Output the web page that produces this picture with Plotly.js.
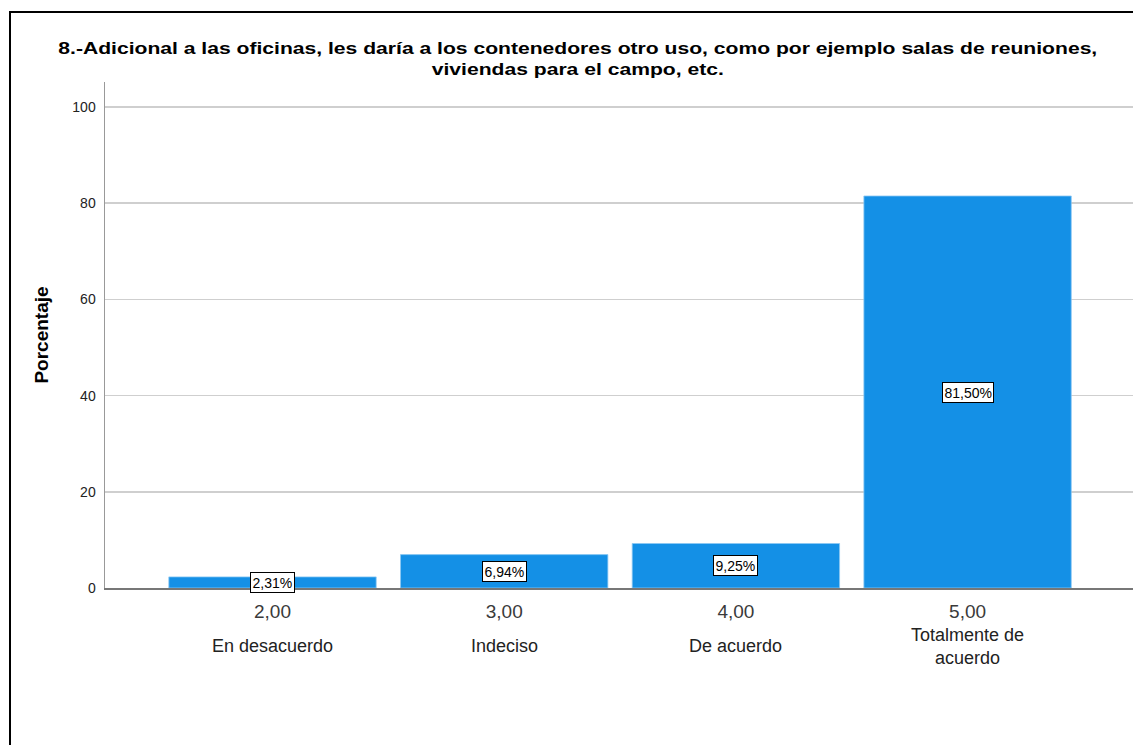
<!DOCTYPE html>
<html>
<head>
<meta charset="utf-8">
<script src="https://cdn.plot.ly/plotly-3.0.1.min.js"></script>
<style>
  html, body { margin: 0; padding: 0; background: #fff; overflow: hidden; }
  #wrap { position: relative; width: 1133px; height: 745px; overflow: hidden; }
  #chart { width: 1133px; height: 745px; }
  #frame { position: absolute; left: 9px; top: 11px; width: 1200px; height: 800px;
           border: 2px solid #000; pointer-events: none; box-sizing: border-box; }
  #chart .gtitle { transform-box: view-box; transform-origin: 578px 55px; transform: scaleX(1.32); }
</style>
</head>
<body>
<div id="wrap">
  <div id="chart"></div>
  <div id="frame"></div>
</div>
<script>
// ---- data ----
const codes = ["2,00", "3,00", "4,00", "5,00"];
const categoryLabels = ["En desacuerdo", "Indeciso", "De acuerdo", "Totalmente de<br>acuerdo"];
const percentages = [2.31, 6.94, 9.25, 81.50];
const yTicks = [0, 20, 40, 60, 80, 100];
const titleText = "8.-Adicional a las oficinas, les daría a los contenedores otro uso, como por ejemplo salas de reuniones,<br>viviendas para el campo, etc.";
const yTitle = "Porcentaje";

const xIdx = codes.map((c, i) => i);
const fmt = v => v.toFixed(2).replace('.', ',') + '%';

const FONT = "Arial, 'Liberation Sans', sans-serif";

const trace = {
  type: 'bar',
  x: xIdx,
  y: percentages,
  width: 0.895,
  marker: { color: '#1490e6', line: { color: '#8cc8f2', width: 0.8 } },
  hoverinfo: 'skip'
};

const annotations = [];
percentages.forEach((v, i) => {
  annotations.push({
    x: i, y: v / 2, xref: 'x', yref: 'y',
    text: fmt(v), showarrow: false,
    font: { family: FONT, size: 14, color: '#000' },
    bgcolor: '#fff', bordercolor: '#000', borderwidth: 1, borderpad: 1.5
  });
});
categoryLabels.forEach((t, i) => {
  annotations.push({
    x: i, y: -0.115, xref: 'x', yref: 'paper',
    text: t, showarrow: false, yanchor: 'middle',
    font: { family: FONT, size: 18, color: '#222' }
  });
});

const layout = {
  width: 1133, height: 745,
  margin: { l: 105, r: 0, t: 82, b: 157, pad: 0 },
  paper_bgcolor: '#fff', plot_bgcolor: '#fff',
  showlegend: false,
  title: {
    text: titleText,
    x: 0.510, xref: 'container', xanchor: 'center',
    y: 0.9275, yref: 'container', yanchor: 'middle',
    font: { family: FONT, size: 16, color: '#000', weight: 'bold' }
  },
  xaxis: {
    range: [-0.723, 3.714],
    tickmode: 'array', tickvals: xIdx, ticktext: codes,
    ticks: 'outside', ticklen: 6, tickcolor: 'rgba(0,0,0,0)',
    tickfont: { family: FONT, size: 19, color: '#3a3a3a' },
    showline: true, linecolor: '#777', linewidth: 1.5,
    showgrid: false, zeroline: false, fixedrange: true
  },
  yaxis: {
    range: [0, 105.2],
    tickmode: 'array', tickvals: yTicks,
    ticks: 'outside', ticklen: 5, tickcolor: 'rgba(0,0,0,0)',
    tickfont: { family: FONT, size: 14, color: '#222' },
    showline: true, linecolor: '#999', linewidth: 1.5,
    showgrid: true, gridcolor: '#cfcfcf', gridwidth: 1.5,
    zeroline: false, fixedrange: true,
    title: { text: yTitle, standoff: 18, font: { family: FONT, size: 19, color: '#000', weight: 'bold' } },
    automargin: false
  },
  annotations: annotations,
  bargap: 0.1
};

Plotly.newPlot('chart', [trace], layout, { staticPlot: true, displayModeBar: false });
</script>
</body>
</html>
